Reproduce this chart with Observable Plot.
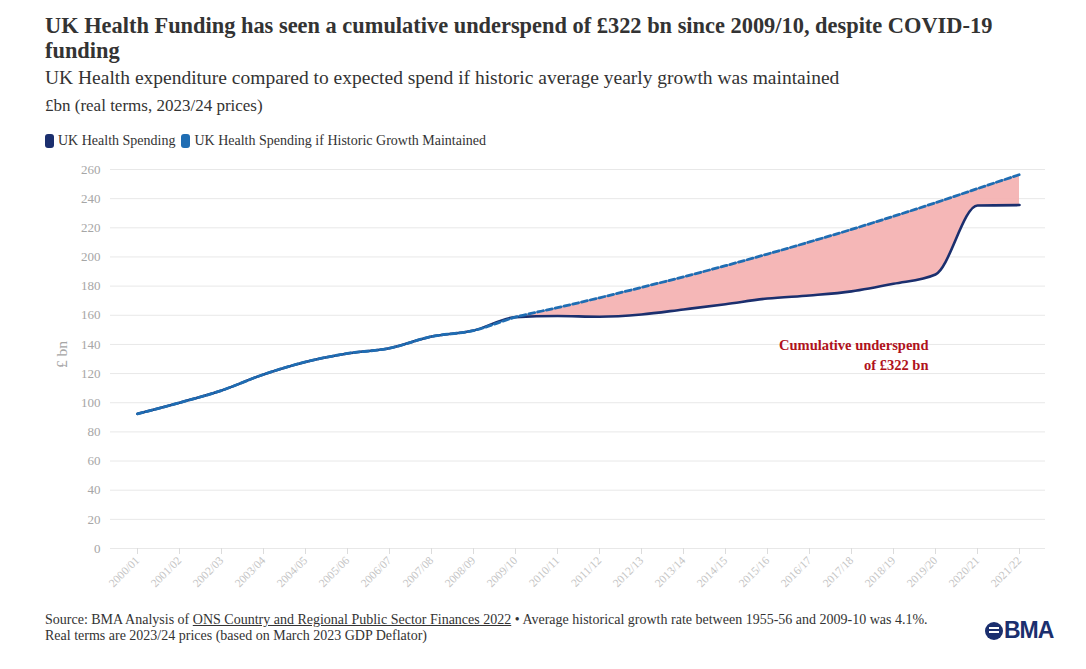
<!DOCTYPE html>
<html>
<head>
<meta charset="utf-8">
<script src="https://cdn.jsdelivr.net/npm/d3@7"></script>
<script src="https://cdn.jsdelivr.net/npm/@observablehq/plot@0.6"></script>
<style>
  body { margin: 0; background: #fff; font-family: "Liberation Serif", "DejaVu Serif", serif; color: #333; }
  #wrap { position: relative; width: 1086px; height: 669px; }
  .title { position: absolute; left: 45px; top: 13px; width: 970px; font-size: 22.4px; font-weight: bold; line-height: 25px; color: #333; }
  .subtitle { position: absolute; left: 45px; top: 67px; font-size: 19.5px; color: #333; }
  .units { position: absolute; left: 45px; top: 96px; font-size: 17px; color: #333; }
  .legend { position: absolute; left: 45px; top: 133px; font-size: 14px; color: #333; display: flex; align-items: center; }
  .legend .sw { display: inline-block; width: 9px; height: 14px; border-radius: 3px; margin-right: 4px; }
  .legend .item { display: inline-flex; align-items: center; margin-right: 6px; }
  #chart { position: absolute; left: 0; top: 155px; }
  .footer { position: absolute; left: 45px; top: 612px; font-size: 14px; line-height: 16px; color: #333; }
  .footer u { text-decoration: underline; }
  .logo { position: absolute; left: 985px; top: 617px; display: flex; align-items: center; }
  .logo .circ { width: 18px; height: 18px; border-radius: 50%; background: #1b2f6e; margin-right: 1px; position: relative; }
  .logo .circ::before { content: ""; position: absolute; left: 4px; top: 5px; width: 10px; height: 2px; background: #fff; box-shadow: 0 4px 0 #fff; }
  .logo .txt { font-family: "Liberation Sans", Arial, sans-serif; font-weight: bold; font-size: 23px; color: #1b2f6e; letter-spacing: -1px; }
</style>
</head>
<body>
<div id="wrap">
  <div class="title">UK Health Funding has seen a cumulative underspend of £322 bn since 2009/10, despite COVID-19 funding</div>
  <div class="subtitle">UK Health expenditure compared to expected spend if historic average yearly growth was maintained</div>
  <div class="units">£bn (real terms, 2023/24 prices)</div>
  <div class="legend" id="legend"></div>
  <div id="chart"></div>
  <div class="footer">Source: BMA Analysis of <u>ONS Country and Regional Public Sector Finances 2022</u> • Average historical growth rate between 1955-56 and 2009-10 was 4.1%.<br>Real terms are 2023/24 prices (based on March 2023 GDP Deflator)</div>
  <div class="logo"><div class="circ"></div><div class="txt">BMA</div></div>
</div>
<script>
const years = ["2000/01","2001/02","2002/03","2003/04","2004/05","2005/06","2006/07","2007/08","2008/09","2009/10","2010/11","2011/12","2012/13","2013/14","2014/15","2015/16","2016/17","2017/18","2018/19","2019/20","2020/21","2021/22"];
const spending = [92.4, 100.0, 108.4, 119.4, 128.0, 133.8, 137.4, 145.4, 149.5, 158.7, 159.5, 159.0, 160.5, 164.0, 167.6, 171.5, 173.6, 176.4, 181.6, 188.0, 235.3, 235.6];
const historic = [92.4, 100.0, 108.4, 119.4, 128.0, 133.8, 137.4, 145.4, 149.5, 158.7, 165.2, 172.0, 179.1, 186.4, 194.0, 202.0, 210.3, 218.9, 227.9, 237.2, 246.9, 256.5];
const seriesNames = ["UK Health Spending", "UK Health Spending if Historic Growth Maintained"];
const seriesColors = ["#1b2f6e", "#1f6db3"];
const yTicks = [0, 20, 40, 60, 80, 100, 120, 140, 160, 180, 200, 220, 240, 260];
const annotation = [{year: "2019/20", value: 133.8, label: "Cumulative underspend\nof £322 bn"}];
const gapStart = "2009/10";

const rows = years.map((y, i) => ({year: y, spending: spending[i], historic: historic[i]}));
const gapRows = rows.slice(years.indexOf(gapStart));

// legend
const leg = document.getElementById("legend");
seriesNames.forEach((n, i) => {
  const it = document.createElement("span");
  it.className = "item";
  it.innerHTML = `<span class="sw" style="background:${seriesColors[i]}"></span>${n}`;
  leg.appendChild(it);
});

const chart = Plot.plot({
  width: 1086,
  height: 453,
  marginLeft: 110,
  marginRight: 41,
  marginTop: 14,
  marginBottom: 60,
  style: {fontFamily: "'Liberation Serif', serif", background: "transparent"},
  x: {type: "point", domain: years, padding: 0.5, label: null},
  y: {domain: [0, 260], label: null},
  marks: [
    Plot.ruleY(yTicks, {stroke: "#e8e8e8", strokeWidth: 1}),
    Plot.ruleX([0], {frameAnchor: "left", stroke: "#e8e8e8", y1: 0, y2: 260}),
    Plot.axisY({ticks: yTicks, tickSize: 0, tickPadding: 10, fill: "#a6a6a6", fontSize: 13, label: null}),
    Plot.text(["£ bn"], {frameAnchor: "left", dx: -48, dy: 9, rotate: -90, fill: "#a6a6a6", fontSize: 15.5}),
    Plot.axisX({tickSize: 6, stroke: "#dcdcdc", tickRotate: -45, fill: "#c4c4c4", fontSize: 11.5, tickPadding: 4}),
    Plot.areaY(gapRows, {x: "year", y1: "spending", y2: "historic", fill: "#f4b3b3", fillOpacity: 0.95, curve: "monotone-x"}),
    Plot.lineY(rows, {x: "year", y: "spending", stroke: seriesColors[0], strokeWidth: 2.6, curve: "monotone-x"}),
    Plot.lineY(rows, {x: "year", y: "historic", stroke: seriesColors[1], strokeWidth: 2.8, strokeDasharray: "6,3", curve: "monotone-x"}),
    Plot.text(annotation, {x: "year", y: "value", text: "label", textAnchor: "end", dx: -7, fill: "#b0121b", fontWeight: "bold", fontSize: 14.5, lineHeight: 1.35})
  ]
});
document.getElementById("chart").appendChild(chart);
</script>
</body>
</html>
